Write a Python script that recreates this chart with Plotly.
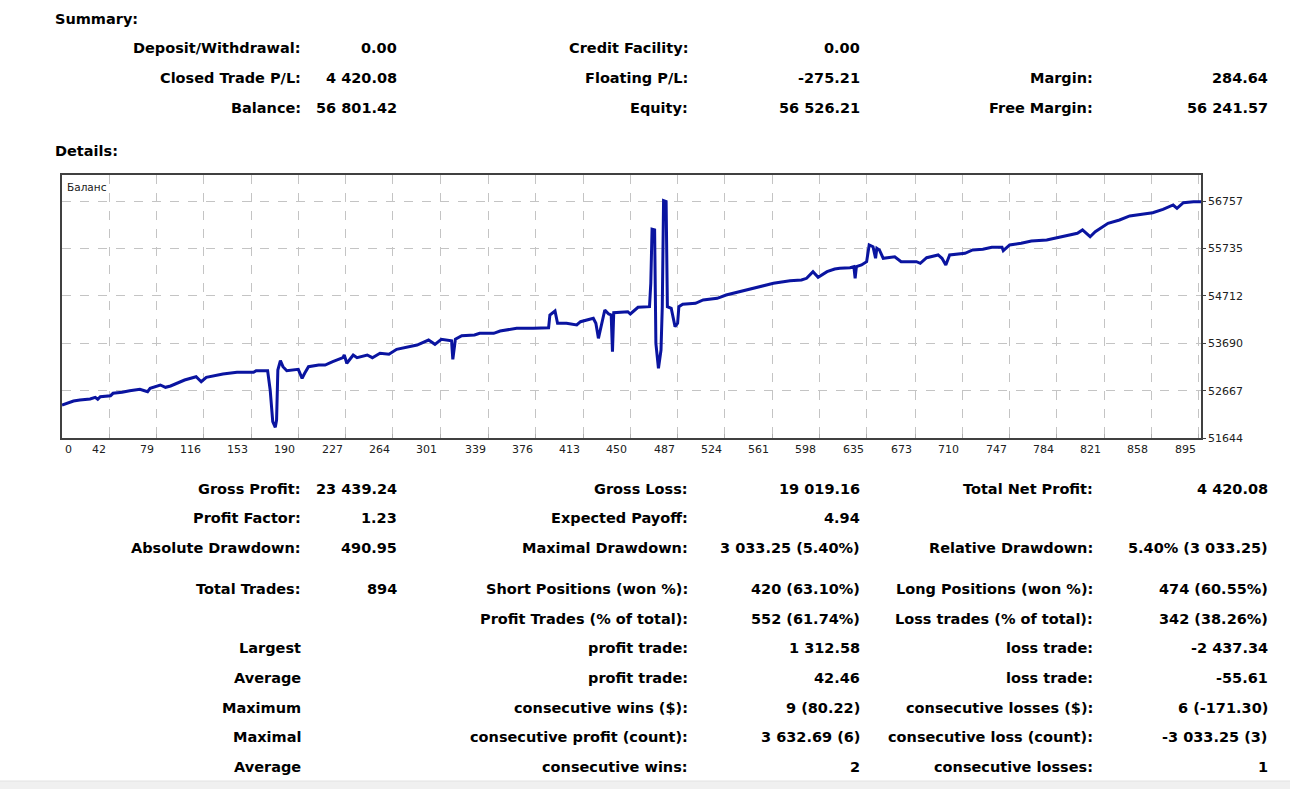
import plotly.graph_objects as go

# ---------------- data ----------------
trade_no = [5, 9, 14, 19, 27, 31, 33, 35, 43, 45, 52, 58, 66, 72, 74, 82, 86, 90, 95, 101,
            110, 114, 118, 131, 142, 155, 157, 166, 168, 170, 172, 173, 174, 176, 178, 181, 190, 193, 195, 198,
            206, 211, 217, 225, 226, 228, 233, 236, 244, 248, 254, 261, 267, 278, 283, 292, 297, 302, 310, 311,
            313, 318, 328, 332, 343, 348, 361, 374, 386, 387, 391, 393, 400, 408, 411, 421, 423, 425, 428, 430,
            433, 435, 436, 437, 448, 450, 456, 465, 466, 467, 469, 470, 472, 474, 475, 476, 478, 479, 482, 485,
            487, 488, 491, 501, 507, 518, 525, 536, 549, 562, 575, 584, 588, 593, 597, 604, 610, 614, 622, 625,
            626, 627, 631, 635, 637, 640, 642, 643, 645, 648, 657, 662, 674, 677, 682, 691, 694, 697, 700, 712,
            718, 726, 733, 741, 742, 747, 756, 764, 776, 784, 789, 794, 800, 804, 810, 814, 818, 824, 833, 841,
            852, 859, 867, 875, 878, 883, 891, 897]
balance = [52357, 52394, 52443, 52465, 52487, 52523, 52480, 52536, 52558, 52610, 52631, 52666, 52696, 52644, 52718, 52789, 52739, 52768, 52826, 52897,
           52968, 52860, 52955, 53027, 53063, 53063, 53098, 53098, 52681, 51996, 51875, 52033, 53113, 53314, 53185, 53098, 53128, 52934, 53042, 53185,
           53221, 53221, 53293, 53379, 53437, 53258, 53437, 53379, 53437, 53379, 53474, 53452, 53560, 53617, 53653, 53761, 53668, 53777, 53746, 53344,
           53777, 53854, 53869, 53906, 53906, 53956, 54014, 54014, 54027, 54302, 54388, 54122, 54122, 54086, 54157, 54230, 54122, 53798, 54193, 54410,
           54323, 54302, 53509, 54351, 54373, 54323, 54468, 54481, 54986, 56153, 56138, 53690, 53150, 53545, 54481, 56771, 56750, 54481, 54446, 54049,
           54122, 54481, 54533, 54554, 54626, 54662, 54734, 54805, 54900, 54986, 55043, 55058, 55094, 55237, 55116, 55237, 55295, 55310, 55323, 55345,
           55095, 55345, 55382, 55453, 55814, 55777, 55527, 55743, 55706, 55527, 55561, 55453, 55453, 55418, 55540, 55598, 55527, 55382, 55598, 55635,
           55706, 55721, 55764, 55764, 55691, 55814, 55851, 55900, 55922, 55972, 55993, 56030, 56067, 56138, 55993, 56101, 56175, 56283, 56354, 56441,
           56484, 56512, 56585, 56678, 56607, 56728, 56750, 56750]

x_ticks = [0, 42, 79, 116, 153, 190, 227, 264, 301, 339, 376, 413, 450, 487, 524, 561, 598, 635,
           673, 710, 747, 784, 821, 858, 895]
y_ticks = [51644, 52667, 53690, 54712, 55735, 56757]

summary_rows = [
    ["Deposit/Withdrawal:", "0.00", "Credit Facility:", "0.00", "", ""],
    ["Closed Trade P/L:", "4 420.08", "Floating P/L:", "-275.21", "Margin:", "284.64"],
    ["Balance:", "56 801.42", "Equity:", "56 526.21", "Free Margin:", "56 241.57"],
]
details_rows = [
    ["Gross Profit:", "23 439.24", "Gross Loss:", "19 019.16", "Total Net Profit:", "4 420.08"],
    ["Profit Factor:", "1.23", "Expected Payoff:", "4.94", "", ""],
    ["Absolute Drawdown:", "490.95", "Maximal Drawdown:", "3 033.25 (5.40%)", "Relative Drawdown:", "5.40% (3 033.25)"],
    ["Total Trades:", "894", "Short Positions (won %):", "420 (63.10%)", "Long Positions (won %):", "474 (60.55%)"],
    ["", "", "Profit Trades (% of total):", "552 (61.74%)", "Loss trades (% of total):", "342 (38.26%)"],
    ["Largest", "", "profit trade:", "1 312.58", "loss trade:", "-2 437.34"],
    ["Average", "", "profit trade:", "42.46", "loss trade:", "-55.61"],
    ["Maximum", "", "consecutive wins ($):", "9 (80.22)", "consecutive losses ($):", "6 (-171.30)"],
    ["Maximal", "", "consecutive profit (count):", "3 632.69 (6)", "consecutive loss (count):", "-3 033.25 (3)"],
    ["Average", "", "consecutive wins:", "2", "consecutive losses:", "1"],
]

# ---------------- layout geometry ----------------
W, H = 1290, 789
PL, PR, PT, PB = 62, 1201, 175, 438
X_MIN, X_MAX = 5, 896.8
Y_MIN, Y_MAX = 51644, 57326


def px(x):
    return (x - PL) / (PR - PL)


def py(y):
    return (PB - y) / (PB - PT)


FONT = "DejaVu Sans"
TXT = "#000000"

fig = go.Figure()
fig.add_trace(go.Scatter(x=trade_no, y=balance, mode="lines",
                         line=dict(color="#0a14a0", width=3), hoverinfo="skip",
                         showlegend=False))

tick_pos = [X_MIN] + x_ticks[1:]

annotations = []
# x tick labels (drawn to the left of their grid lines, as in the terminal)
for i, (pos, lab) in enumerate(zip(tick_pos, x_ticks)):
    annotations.append(dict(x=pos, xref="x", y=0, yref="paper", yanchor="top",
                            xanchor="left" if i == 0 else "right", xshift=1 if i == 0 else -1,
                            yshift=-3, text=str(lab), showarrow=False,
                            font=dict(family=FONT, size=11, color="#202020")))

annotations.append(dict(x=px(65), y=py(187), xref="paper", yref="paper", xanchor="left",
                        yanchor="middle", text="Баланс", showarrow=False,
                        font=dict(family=FONT, size=10.5, color="#202020")))


def add_text(x, y, text, anchor="right", size=14.5):
    if not text:
        return
    annotations.append(dict(x=px(x), y=py(y), xref="paper", yref="paper", xanchor=anchor,
                            yanchor="middle", text=text, showarrow=False,
                            font=dict(family=FONT, size=size, color=TXT, weight="bold")))


add_text(53, 19, "Summary:", anchor="left")
add_text(53, 151, "Details:", anchor="left")

col_x = [303, 399, 690, 862, 1095, 1270]
for row, yy in zip(summary_rows, [48, 78, 108]):
    for cx, t in zip(col_x, row):
        add_text(cx, yy, t)

for row, yy in zip(details_rows, [489, 518, 548, 589, 619, 648, 678, 708, 737, 767]):
    for cx, t in zip(col_x, row):
        add_text(cx, yy, t)

shapes = [
    dict(type="rect", xref="paper", yref="paper", x0=px(-5), x1=px(1300), y0=py(781), y1=py(795),
         fillcolor="#f0f0f0", line=dict(color="#e2e2e2", width=1), layer="below"),
]

fig.update_layout(
    width=W, height=H,
    margin=dict(l=PL, r=W - PR, t=PT, b=H - PB, pad=0),
    paper_bgcolor="white", plot_bgcolor="white",
    annotations=annotations, shapes=shapes,
    xaxis=dict(range=[X_MIN, X_MAX], tickvals=tick_pos, showticklabels=False,
               showgrid=True, gridcolor="#c4c4c4", griddash="dash", gridwidth=1,
               zeroline=False, showline=True, linecolor="#404040", linewidth=1.5, mirror=True,
               ticks="inside", ticklen=4, tickcolor="#b0b0b0", fixedrange=True),
    yaxis=dict(range=[Y_MIN, Y_MAX], tickvals=y_ticks, ticktext=[str(v) for v in y_ticks],
               side="right", showgrid=True, gridcolor="#c4c4c4", griddash="dash", gridwidth=1,
               zeroline=False, showline=True, linecolor="#404040", linewidth=1.5, mirror=True,
               ticks="outside", ticklen=3, tickcolor="#404040", ticklabelstandoff=0,
               tickfont=dict(family=FONT, size=11, color="#202020"), fixedrange=True),
)

fig.write_html("out.html")
